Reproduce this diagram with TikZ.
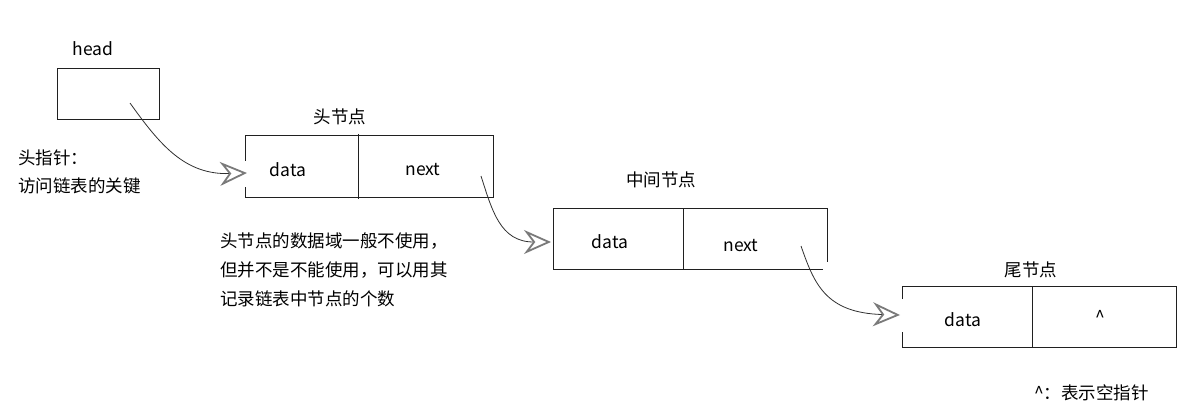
\documentclass[tikz,border=0pt]{standalone}
\usepackage{fontspec}
\setmainfont{Noto Sans CJK SC}
\usetikzlibrary{arrows.meta}
\definecolor{boxline}{HTML}{202020}
\definecolor{curveline}{HTML}{303030}
\definecolor{tipgray}{HTML}{7A7A7A}
\tikzset{
  boxedge/.style={draw=boxline, line width=1pt},
  txt/.style={inner sep=0pt, font=\fontsize{17.5}{20}\selectfont, text=black},
  ptr/.style={draw=curveline, line width=0.8pt,
    -{Stealth[open, inset=9pt, length=27pt, width=24pt, line width=1.8pt, color=tipgray]}},
}
\begin{document}
\begin{tikzpicture}[x=1pt, y=-1pt]
\useasboundingbox (0,0) rectangle (1189,409);
% head box
\draw[boxedge] (57,69) rectangle (159,120);
\node[txt] (headlbl) at (93,49) {head};
% node 1
\draw[boxedge] (245,161) -- (245,136) -- (493,136) -- (493,197) -- (245,197) -- (245,187);
\draw[boxedge] (358,134) -- (358,199);
\node[txt] (n1lbl) at (340,117) {头节点};
\node[txt] (n1data) at (288,170) {data};
\node[txt] (n1next) at (423,170) {next};
% middle
\draw[boxedge] (553,208) -- (827,208) -- (827,262);
\draw[boxedge] (553,208) -- (553,269) -- (823,269);
\draw[boxedge] (683,208) -- (683,269);
\node[txt] (n2lbl) at (661,180) {中间节点};
\node[txt] (n2data) at (610,242) {data};
\node[txt] (n2next) at (741,246) {next};
% tail
\draw[boxedge] (902,299) -- (902,286) -- (1176,286) -- (1176,347) -- (902,347) -- (902,332);
\draw[boxedge] (1032,286) -- (1032,347);
\node[txt] (n3lbl) at (1031,270) {尾节点};
\node[txt] (n3data) at (963,320) {data};
\node[txt] (n3null) at (1100,317) {\^{}};
% notes
\node[txt, anchor=west] (hp1) at (18,158) {头指针：};
\node[txt, anchor=west] (hp2) at (18,186) {访问链表的关键};
\node[txt, anchor=west] (c1) at (220,241) {头节点的数据域一般不使用，};
\node[txt, anchor=west] (c2) at (220,270) {但并不是不能使用，可以用其};
\node[txt, anchor=west] (c3) at (220,299) {记录链表中节点的个数};
\node[txt, anchor=west] (nullnote) at (1034,393) {\^{}：表示空指针};
% pointers
\coordinate (s0) at (130,103);
\coordinate (t0) at (247,173);
\coordinate (s1) at (481,176);
\coordinate (t1) at (551,242);
\coordinate (s2) at (801,246);
\coordinate (t2) at (900,315);
\draw[ptr] (s0) .. controls (160,145) and (185,175) .. (t0);
\draw[ptr] (s1) .. controls (492,210) and (500,242) .. (t1);
\draw[ptr] (s2) .. controls (814,283) and (825,313) .. (t2);
\end{tikzpicture}
\end{document}
